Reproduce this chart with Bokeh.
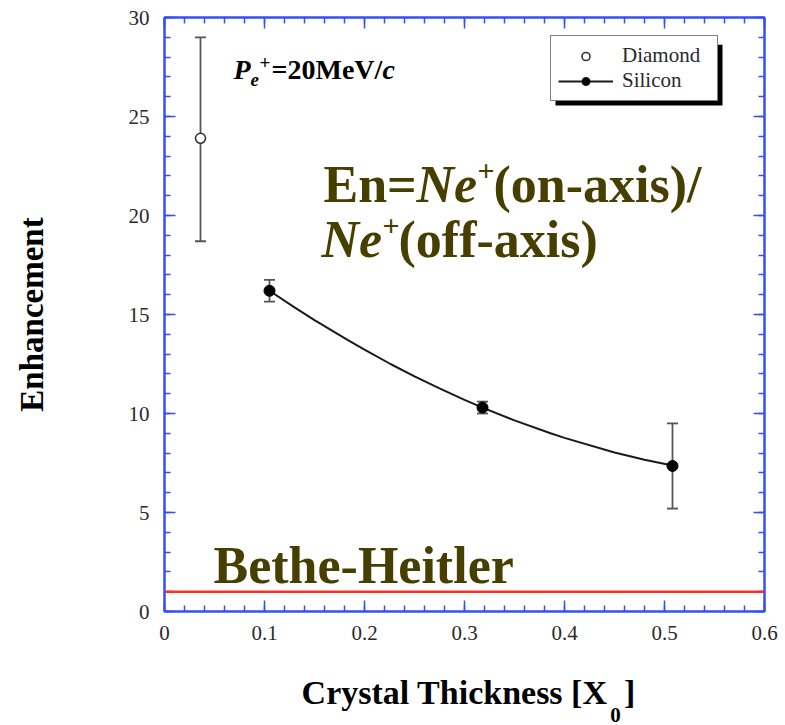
from bokeh.embed import file_html
from bokeh.models import (BoxAnnotation, ColumnDataSource, FixedTicker, Label,
                          Legend, LegendItem, LinearAxis, Range1d, Span, TeeHead,
                          Whisker)
from bokeh.plotting import figure
from bokeh.resources import INLINE

# ---- measurements -------------------------------------------------------
diamond_x = [0.036]
diamond_y = [23.9]
diamond_lo = [18.7]
diamond_hi = [29.0]

silicon_x = [0.105, 0.318, 0.508]
silicon_y = [16.2, 10.3, 7.35]
silicon_lo = [15.65, 10.0, 5.2]
silicon_hi = [16.75, 10.6, 9.5]

# fitted trend through the silicon points
fit_x = [0.105, 0.13, 0.15, 0.183, 0.2, 0.226, 0.25, 0.275, 0.3, 0.318,
         0.35, 0.386, 0.4, 0.45, 0.48, 0.508]
fit_y = [16.2, 15.36, 14.72, 13.72, 13.23, 12.5, 11.88, 11.27, 10.69, 10.3,
         9.65, 9.0, 8.77, 8.03, 7.66, 7.37]

bethe_heitler = 1.0

x_ticks = [0.0, 0.1, 0.2, 0.3, 0.4, 0.5, 0.6]
x_tick_labels = ["0", "0.1", "0.2", "0.3", "0.4", "0.5", "0.6"]
x_minor = [round(i * 0.02, 2) for i in range(31)]
y_ticks = [0, 5, 10, 15, 20, 25, 30]
y_tick_labels = ["0", "5", "10", "15", "20", "25", "30"]
y_minor = list(range(31))

NBSP = "\u00a0"
x_title = NBSP + "Crystal Thickness [X" + NBSP * 2 + "]"
x_title_sub = "0"
y_title = "Enhancement"

# ---- styling ------------------------------------------------------------
SERIF = "Liberation Serif"
FRAME_BLUE = "#3350f5"
OLIVE = "#463f00"
BAR_GREY = "#555555"

p = figure(width=785, height=725, output_backend="svg", toolbar_location=None,
           x_range=Range1d(0, 0.6), y_range=Range1d(0, 30),
           min_border_left=164, min_border_right=21,
           min_border_top=17, min_border_bottom=114,
           x_axis_location=None, y_axis_location=None)
p.background_fill_color = "white"
p.border_fill_color = "white"
p.outline_line_color = FRAME_BLUE
p.outline_line_width = 2
p.grid.visible = False


def style_axis(ax, ticks, minor, labels):
    ax.ticker = FixedTicker(ticks=ticks, minor_ticks=minor)
    ax.major_label_overrides = {t: s for t, s in zip(ticks, labels)}
    ax.axis_line_color = FRAME_BLUE
    ax.axis_line_width = 2
    ax.major_tick_line_color = FRAME_BLUE
    ax.minor_tick_line_color = FRAME_BLUE
    ax.major_tick_line_width = 1.5
    ax.minor_tick_line_width = 1.5
    ax.major_tick_in = 11
    ax.major_tick_out = 0
    ax.minor_tick_in = 6
    ax.minor_tick_out = 0
    ax.major_label_text_font = SERIF
    ax.major_label_text_font_size = "21px"
    ax.major_label_text_color = "#2a2a2a"
    ax.axis_label_text_font = SERIF
    ax.axis_label_text_font_style = "bold"
    ax.axis_label_text_color = "black"


bottom = LinearAxis(axis_label=x_title)
style_axis(bottom, x_ticks, x_minor, x_tick_labels)
bottom.major_label_standoff = 14
bottom.axis_label_text_font_size = "34px"
bottom.axis_label_standoff = 31
p.add_layout(bottom, "below")

# subscript of the radiation-length unit, hung just under the x title
SUB_POS = 0.451
sub_axis = LinearAxis(ticker=FixedTicker(ticks=[SUB_POS]),
                      major_label_overrides={SUB_POS: x_title_sub},
                      axis_line_color=None, major_tick_line_color=None,
                      minor_tick_line_color=None, major_tick_out=0,
                      major_label_standoff=-6,
                      major_label_text_font=SERIF,
                      major_label_text_font_size="21px",
                      major_label_text_font_style="bold",
                      major_label_text_color="black")
p.add_layout(sub_axis, "below")

top = LinearAxis()
style_axis(top, x_ticks, x_minor, [""] * len(x_ticks))
top.major_label_standoff = 0
p.add_layout(top, "above")

left = LinearAxis(axis_label=y_title)
style_axis(left, y_ticks, y_minor, y_tick_labels)
left.major_label_standoff = 15
left.axis_label_text_font_size = "33px"
left.axis_label_standoff = 76
p.add_layout(left, "left")

right = LinearAxis()
style_axis(right, y_ticks, y_minor, [""] * len(y_ticks))
right.major_label_standoff = 0
p.add_layout(right, "right")

# ---- Bethe-Heitler reference --------------------------------------------
p.add_layout(Span(location=bethe_heitler, dimension="width",
                  line_color="#ff3020", line_width=2.5))

# ---- error bars ---------------------------------------------------------
dsrc = ColumnDataSource(dict(x=diamond_x, y=diamond_y, lo=diamond_lo, hi=diamond_hi))
ssrc = ColumnDataSource(dict(x=silicon_x, y=silicon_y, lo=silicon_lo, hi=silicon_hi))
for src in (dsrc, ssrc):
    p.add_layout(Whisker(source=src, base="x", lower="lo", upper="hi",
                         line_color=BAR_GREY, line_width=1.8,
                         upper_head=TeeHead(size=11, line_color=BAR_GREY, line_width=1.8),
                         lower_head=TeeHead(size=11, line_color=BAR_GREY, line_width=1.8)))

# ---- fit curve and markers ------------------------------------------------
fit_r = p.line(fit_x, fit_y, line_color="#1a1a1a", line_width=2)
dia_r = p.scatter("x", "y", source=dsrc, marker="circle", size=10,
                  fill_color="white", line_color="#333333", line_width=1.6)
sil_r = p.scatter("x", "y", source=ssrc, marker="circle", size=11,
                  fill_color="black", line_color="black")

# ---- legend with drop shadow ---------------------------------------------
p.add_layout(BoxAnnotation(left=0.391, right=0.558, top=28.62, bottom=25.55,
                           fill_color="black", fill_alpha=1, line_color=None))
legend = Legend(items=[LegendItem(label="Diamond", renderers=[dia_r]),
                       LegendItem(label="Silicon", renderers=[fit_r, sil_r])],
                location=(386, 510), orientation="vertical",
                label_text_font=SERIF, label_text_font_size="21px",
                label_text_color="#2a2a2a", glyph_width=55, glyph_height=20,
                label_height=20, label_width=88, label_standoff=9, spacing=-7,
                padding=7, margin=0, border_line_color="black",
                border_line_width=1.5, background_fill_color="white",
                background_fill_alpha=1)
p.add_layout(legend, "center")


# ---- text annotations inside the frame -----------------------------------
def px_x(px):
    return (px - 164) / 1000.0


def px_y(py, size):
    # raise the anchor so the glyph baseline lands on py
    return (611 - (py - 0.34 * size)) / 19.8


def put(text, x, y, size, color="black", style="bold"):
    p.add_layout(Label(x=px_x(x), y=px_y(y, size), text=text, text_font=SERIF,
                       text_font_size=f"{size}px", text_font_style=style,
                       text_color=color, text_baseline="alphabetic",
                       text_align="left"))


# beam momentum
put("P", 233, 79, 28, style="bold italic")
put("e", 250, 85, 19, style="bold italic")
put("+", 259, 68, 19)
put("=20MeV/", 271, 79, 28)
put("c", 382, 79, 28, style="bold italic")

# enhancement definition
put("En=", 323, 202, 52, color=OLIVE)
put("Ne", 416, 202, 52, color=OLIVE, style="bold italic")
put("+", 477, 181, 30, color=OLIVE)
put("(on-axis)/", 493, 202, 52, color=OLIVE)
put("Ne", 321, 257, 52, color=OLIVE, style="bold italic")
put("+", 382, 236, 30, color=OLIVE)
put("(off-axis)", 398, 257, 52, color=OLIVE)

put("Bethe-Heitler", 213, 583, 52, color=OLIVE)

with open("out.html", "w") as f:
    f.write(file_html(p, INLINE))
